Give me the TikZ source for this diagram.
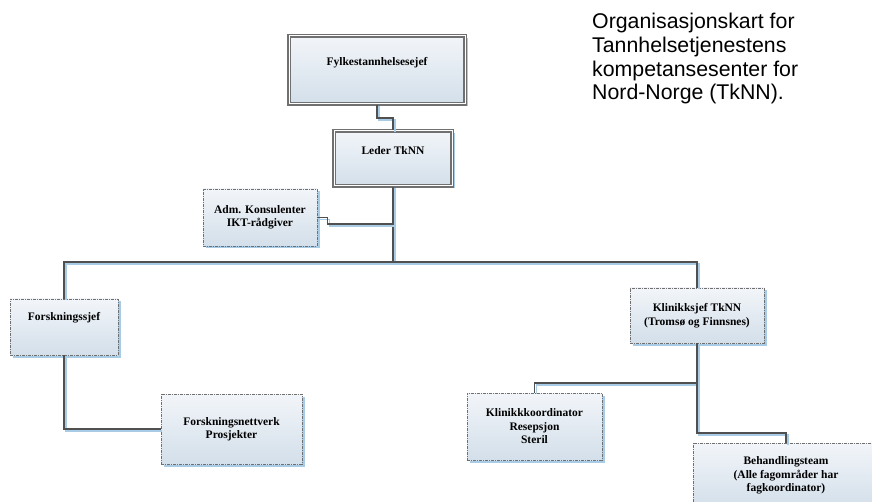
\documentclass[tikz,border=0pt]{standalone}
\usepackage{fontspec}
\setmainfont{Liberation Serif}
\newfontfamily\helv{Liberation Sans}
\usetikzlibrary{shadows}
\definecolor{shblue}{HTML}{A9CCE6}
\definecolor{linegray}{HTML}{505050}
\definecolor{boxtop}{HTML}{F2F5F9}
\definecolor{boxbot}{HTML}{D3DFEA}
\definecolor{bordergray}{HTML}{707070}
\newcommand{\liftup}[2]{\raisebox{#1}[\height][\depth]{#2}}
\tikzset{
  orgbox/.style={rectangle, align=center, inner sep=2pt,
    font=\fontsize{11.5}{13.5}\selectfont\bfseries,
    top color=boxtop, bottom color=boxbot,
    drop shadow={shadow xshift=2.5pt, shadow yshift=-2.5pt, fill=shblue, opacity=1}},
  mainbox/.style={orgbox, draw=bordergray, double=white, double distance=1pt, line width=1.2pt},
  subbox/.style={orgbox, draw=bordergray, line width=0.9pt, dash pattern=on 3pt off 1pt on 1pt off 1pt},
  conn/.style={draw=linegray, line width=1.5pt,
    preaction={draw=shblue, line width=1.5pt, transform canvas={shift={(1.8pt,-1.8pt)}}}},
}
\begin{document}
\begin{tikzpicture}[x=1pt,y=-1pt]
\useasboundingbox (0,0) rectangle (872,502);
\fill[white] (0,0) rectangle (872,502);
\clip (0,0) rectangle (872,502);

\node[mainbox, minimum width=176pt, minimum height=68pt] (f) at (377,70) {\liftup{7pt}{Fylkestannhelsesejef}};
\node[mainbox, minimum width=118pt, minimum height=55pt] (l) at (393,158.5) {\liftup{8pt}{Leder TkNN}};
\node[subbox, minimum width=114pt, minimum height=57pt] (a) at (260,217.5) {Adm. Konsulenter\\IKT-rådgiver};
\node[subbox, minimum width=108pt, minimum height=56pt] (fs) at (64,327) {\liftup{9pt}{Forskningssjef}};
\node[subbox, minimum width=141pt, minimum height=70pt] (fn) at (231.5,429) {Forskningsnettverk\\Prosjekter};
\node[subbox, minimum width=134pt, minimum height=55pt] (ks) at (697,315.5) {Klinikksjef TkNN\\(Tromsø og Finnsnes)};
\node[subbox, minimum width=135pt, minimum height=67pt] (kk) at (534.5,426.5) {Klinikkkoordinator\\Resepsjon\\Steril};
\node[subbox, minimum width=186pt, minimum height=64pt, anchor=north] (bt) at (786,443) {Behandlingsteam\\(Alle fagområder har\\fagkoordinator)};

\node[anchor=north west, align=left, inner sep=0pt, font=\helv\fontsize{21.3}{23.7}\selectfont] (title) at (592,13)
  {Organisasjonskart for\\Tannhelsetjenestens\\kompetansesenter for\\Nord-Norge (TkNN).};

\coordinate (j1) at (0,118);
\coordinate (bus) at (0,262);
\coordinate (aj) at (0,224);
\coordinate (kj) at (0,383);
\coordinate (bj) at (0,433);

\path[conn] (f.south) -- (f.south |- j1) -- (l.north |- j1) -- (l.north);
\path[conn] (l.south) -- (l.south |- bus);
\path[conn] (fs.north) -- (fs.north |- bus) -- (ks.north |- bus) -- (ks.north);
\path[conn] (a.east) -- ++(10,0) |- (l.south |- aj);
\path[conn] (fs.south) |- (fn.west);
\path[conn] (ks.south) -- (ks.south |- kj) -- (kk.north |- kj) -- (kk.north);
\path[conn] (ks.south |- kj) -- (ks.south |- bj) -- (bt.north |- bj) -- (bt.north);
\end{tikzpicture}
\end{document}
